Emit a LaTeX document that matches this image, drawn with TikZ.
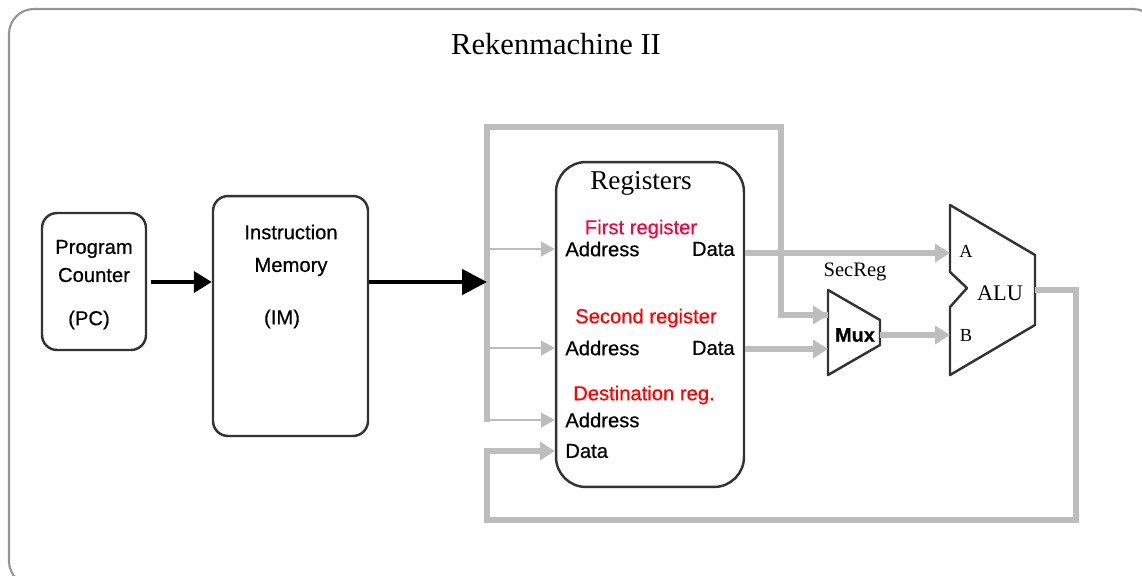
\documentclass[tikz,border=0pt]{standalone}
\usepackage{fontspec}
\setmainfont{Liberation Serif}
\setsansfont[FakeBold=0.5]{Liberation Sans}
\usetikzlibrary{arrows.meta, calc}
\colorlet{busgray}{black!26}
\colorlet{boxline}{black!80}
\colorlet{framegray}{black!42}
\definecolor{firstred}{RGB}{250,0,60}
\definecolor{regred}{RGB}{255,0,0}
\tikzstyle{block}=[draw=boxline, line width=1.4pt, inner sep=0pt]
\tikzstyle{lbl}=[font=\sffamily\fontsize{11.5}{13}\selectfont, inner sep=0pt]
\tikzstyle{redlbl}=[lbl, text=regred]
\tikzstyle{bus}=[draw=busgray, line width=3.4pt]
\tikzstyle{busarrow}=[bus, -{Triangle[length=0.3cm, width=0.36cm]}]
\tikzstyle{wire}=[draw=busgray, line width=1.1pt, -{Triangle[length=0.28cm, width=0.3cm]}]

\begin{document}
\begin{tikzpicture}[x=0.02cm, y=-0.02cm]
	\clip (0,0) rectangle (1142,575);
	\useasboundingbox (0,0) rectangle (1142,575);

	% outer frame and title
	\draw[framegray, line width=1.2pt, rounded corners=0.5cm] (9,9) rectangle (1158,586);
	\node[font=\fontsize{17.4}{20}\selectfont, inner sep=0pt] (title) at (556,44) {Rekenmachine II};

	% Program counter and instruction memory
	\node[block, rounded corners=0.3cm, minimum width=2.08cm, minimum height=2.74cm] (pc) at (94,281.5) {};
	\node[lbl] (pc1) at (94,249) {Program};
	\node[lbl] (pc2) at (94,275) {Counter};
	\node[lbl] (pc3) at (89,320) {(PC)};

	\node[block, rounded corners=0.3cm, minimum width=3.1cm, minimum height=4.8cm] (im) at (290.5,316) {};
	\node[lbl] (im1) at (291,232) {Instruction};
	\node[lbl] (im2) at (291,267) {Memory};
	\node[lbl] (im3) at (282,319) {(IM)};

	% Register file
	\node[block, rounded corners=0.6cm, minimum width=3.76cm, minimum height=6.5cm] (regs) at (650,324.5) {};
	\node[font=\fontsize{15.5}{18}\selectfont, inner sep=0pt] (regtitle) at (641,183) {Registers};
	\node[lbl, text=firstred] (first) at (641,229) {First register};
	\node[lbl, anchor=west] (addr1) at (565,249) {Address};
	\node[lbl, anchor=east] (dat1) at (735,249) {Data};
	\node[redlbl] (second) at (646,318) {Second register};
	\node[lbl, anchor=west] (addr2) at (565,348) {Address};
	\node[lbl, anchor=east] (dat2) at (735,348) {Data};
	\node[redlbl] (dest) at (644,395) {Destination reg.};
	\node[lbl, anchor=west] (addr3) at (565,420) {Address};
	\node[lbl, anchor=west] (dat3) at (565,451) {Data};

	% Mux and ALU
	\draw[block, line join=round] (828,290) -- (880,320) -- (880,345) -- (828,375) -- cycle;
	\node[lbl, font=\sffamily\bfseries\fontsize{11.3}{13}\selectfont] (mux) at (855,335) {Mux};
	\node[font=\fontsize{11.7}{14}\selectfont, inner sep=0pt] (secreg) at (855,272) {SecReg};
	\coordinate (muxin1) at (828,315);
	\coordinate (muxin2) at (828,349);
	\coordinate (muxout) at (880,335);

	\draw[block, line join=round] (950,205) -- (1035,255) -- (1035,325) -- (950,375) -- (950,307)
		-- (967,288) -- (950,272) -- cycle;
	\node[font=\fontsize{12.7}{15}\selectfont, inner sep=0pt] (alu) at (1000,293) {ALU};
	\node[font=\fontsize{10.5}{12}\selectfont, inner sep=0pt] (aluA) at (966,251) {A};
	\node[font=\fontsize{10.5}{12}\selectfont, inner sep=0pt] (aluB) at (966,335) {B};
	\coordinate (aluinA) at (950,253);
	\coordinate (aluinB) at (950,335);
	\coordinate (aluout) at (1035,290);

	% Instruction bus
	\coordinate (busbot) at (487,422);
	\coordinate (busmid) at (487,282);
	\coordinate (bustopL) at (487,127);
	\coordinate (bustopR) at (781,127);
	\draw[bus] (busbot) -- (bustopL) -- (bustopR) |- (muxin1);
	\draw[busarrow] (bustopR |- muxin1) -- (muxin1);
	\foreach \a in {addr1, addr2, addr3}{ \draw[wire] (busmid |- \a) -- (regs.west |- \a); }

	\draw[black, line width=2.3pt, -{Triangle[length=0.36cm, width=0.42cm]}] ($(pc.east |- busmid)+(4,0)$) -- (im.west |- busmid);
	\draw[black, line width=2.8pt, -{Triangle[length=0.5cm, width=0.5cm]}] (im.east |- busmid) -- (busmid);

	% Data paths
	\draw[busarrow] (regs.east |- aluinA) -- (aluinA);
	\draw[busarrow] (regs.east |- muxin2) -- (muxin2);
	\draw[busarrow] (muxout) -- (aluinB);

	% Write-back path
	\coordinate (fbR) at (1076,520);
	\coordinate (fbL) at (487,520);
	\draw[bus] (aluout) -| (fbR) -- (fbL) |- (520,451);
	\draw[busarrow] (487,451) -- (regs.west |- dat3);
\end{tikzpicture}
\end{document}
